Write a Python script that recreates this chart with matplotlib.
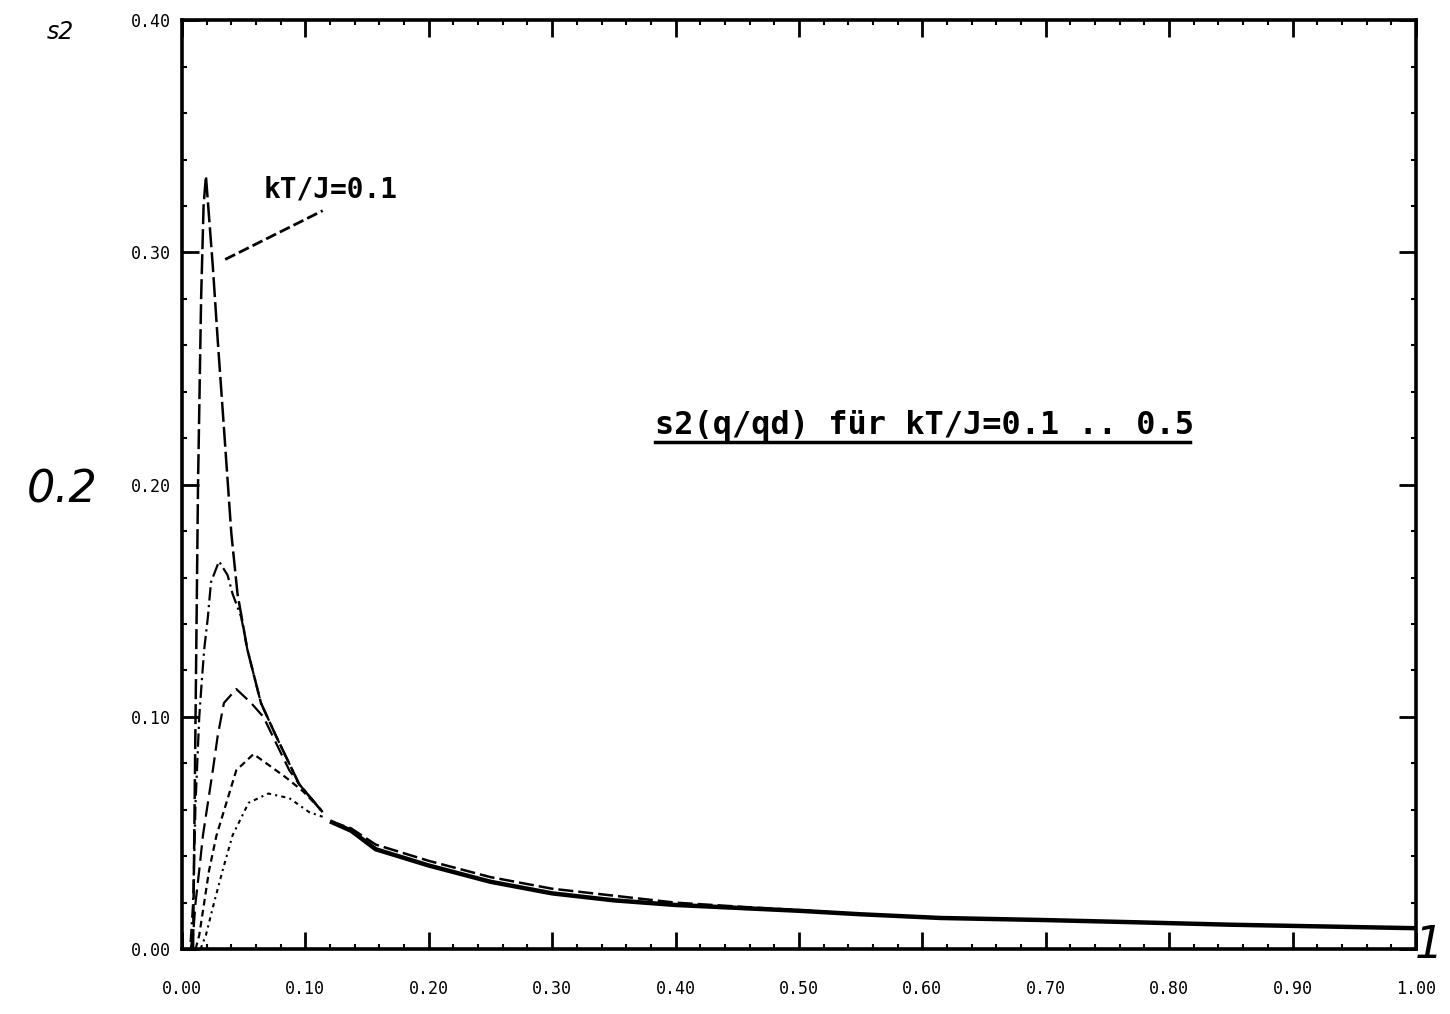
import numpy as np
import matplotlib
matplotlib.use("Agg")
import matplotlib.pyplot as plt
from matplotlib.ticker import MultipleLocator, FixedLocator

# ---- data (q/qd, s2) ----
temps = ["0.1", "0.2", "0.3", "0.4", "0.5"]

# low-q part of each curve (rise, peak, merge into common tail)
q_01 = [0.009, 0.011, 0.013, 0.0155, 0.0175, 0.0194, 0.025, 0.029, 0.033, 0.040, 0.045, 0.053, 0.064, 0.076, 0.095, 0.114]
s_01 = [0.000, 0.100, 0.200, 0.280, 0.320, 0.333, 0.294, 0.262, 0.232, 0.179, 0.153, 0.129, 0.106, 0.092, 0.071, 0.059]

q_02 = [0.007, 0.009, 0.011, 0.014, 0.016, 0.018, 0.021, 0.0235, 0.030, 0.037, 0.041, 0.048, 0.053, 0.064, 0.076, 0.095, 0.114]
s_02 = [0.003, 0.020, 0.063, 0.100, 0.115, 0.129, 0.143, 0.158, 0.167, 0.161, 0.153, 0.143, 0.129, 0.106, 0.092, 0.071, 0.059]

q_03 = [0.007, 0.009, 0.011, 0.014, 0.017, 0.021, 0.025, 0.029, 0.034, 0.044, 0.056, 0.066, 0.076, 0.087, 0.095, 0.114]
s_03 = [0.000, 0.006, 0.020, 0.034, 0.049, 0.063, 0.077, 0.092, 0.106, 0.112, 0.106, 0.100, 0.089, 0.077, 0.071, 0.059]

q_04 = [0.011, 0.014, 0.018, 0.022, 0.028, 0.036, 0.044, 0.058, 0.071, 0.084, 0.098, 0.109, 0.114]
s_04 = [0.000, 0.006, 0.020, 0.034, 0.049, 0.063, 0.077, 0.084, 0.079, 0.074, 0.068, 0.062, 0.059]

q_05 = [0.015, 0.0194, 0.026, 0.033, 0.041, 0.054, 0.070, 0.087, 0.103, 0.114]
s_05 = [0.000, 0.006, 0.020, 0.034, 0.049, 0.063, 0.067, 0.065, 0.059, 0.057]

# common tail (all curves coincide)
q_tail = [0.120, 0.137, 0.157, 0.200, 0.250, 0.300, 0.350, 0.400, 0.460, 0.500, 0.550, 0.615, 0.700, 0.777, 0.850, 0.900, 0.950, 1.000]
s_tail = [0.055, 0.051, 0.043, 0.036, 0.029, 0.024, 0.021, 0.019, 0.0175, 0.0165, 0.015, 0.0134, 0.0125, 0.0115, 0.0105, 0.0100, 0.0095, 0.0090]
# slightly higher dashed branch of the tail
s_tail_hi = [0.055, 0.052, 0.045, 0.038, 0.031, 0.026, 0.023, 0.020, 0.018, 0.0168, 0.015, 0.0134, 0.0125, 0.0115, 0.0105, 0.0100, 0.0095, 0.0090]

xticks = [0.0, 0.1, 0.2, 0.3, 0.4, 0.5, 0.6, 0.7, 0.8, 0.9, 1.0]
xticklabels = ["0.00", "0.10", "0.20", "0.30", "0.40", "0.50", "0.60", "0.70", "0.80", "0.90", "1.00"]
yticks = [0.0, 0.1, 0.2, 0.3, 0.4]
yticklabels = ["0.00", "0.10", "0.20", "0.30", "0.40"]

title_text = "s2(q/qd) für kT/J=0.1 .. 0.5"
annot_text = "kT/J=0.1"

# ---- figure ----
fig = plt.figure(figsize=(14.5, 10.14), dpi=100)
ax = fig.add_axes([0.1255, 0.064, 0.851, 0.916])
ax.set_xlim(0, 1.0)
ax.set_ylim(0, 0.40)

styles = [
    dict(ls=(0, (8, 2)), lw=1.8),
    dict(ls=(0, (6, 2, 1, 2)), lw=1.6),
    dict(ls=(0, (7, 3)), lw=1.6),
    dict(ls=(0, (3, 2)), lw=1.6),
    dict(ls=(0, (2, 2, 1, 2)), lw=1.5),
]
curves = [(q_01, s_01), (q_02, s_02), (q_03, s_03), (q_04, s_04), (q_05, s_05)]
for (qq, ss), st in zip(curves, styles):
    ax.plot(qq, ss, color="black", **st)

# common tail: thick solid plus slightly higher dashed branch
ax.plot(q_tail, s_tail, color="black", lw=3.2, solid_capstyle="butt")
ax.plot(q_tail, s_tail_hi, color="black", lw=1.8, ls=(0, (6, 2)))

# ---- axes styling ----
for sp in ax.spines.values():
    sp.set_linewidth(2.6)
    sp.set_color("black")

ax.xaxis.set_major_locator(FixedLocator(xticks))
ax.yaxis.set_major_locator(FixedLocator(yticks))
ax.xaxis.set_minor_locator(MultipleLocator(0.02))
ax.yaxis.set_minor_locator(MultipleLocator(0.02))
ax.set_xticklabels(xticklabels)
ax.set_yticklabels(yticklabels)

ax.tick_params(which="major", direction="in", length=12, width=2.0,
               top=True, right=True, labelsize=12)
ax.tick_params(which="minor", direction="in", length=3.5, width=1.5,
               top=True, right=True)
ax.tick_params(axis="x", which="major", pad=22)
ax.tick_params(axis="y", which="major", pad=8)
for lab in ax.get_xticklabels() + ax.get_yticklabels():
    lab.set_family("DejaVu Sans Mono")

# ---- texts ----
fig.text(60 / 1450, 1 - 32 / 1014, "s2", fontsize=17, style="italic",
         family="DejaVu Sans", ha="center", va="center")
fig.text(62 / 1450, 1 - 490 / 1014, "0.2", fontsize=32, style="italic",
         family="DejaVu Sans", ha="center", va="center")
fig.text(1429 / 1450, 1 - 945 / 1014, "1", fontsize=32, style="italic",
         family="DejaVu Sans", ha="center", va="center")

ax.text(0.066, 0.327, annot_text, fontsize=20, fontweight="bold",
        family="DejaVu Sans Mono", ha="left", va="center")
ax.plot([0.035, 0.114], [0.297, 0.318], color="black", lw=2.0, ls=(0, (4, 1.5)))

ax.text(0.383, 0.222, title_text, fontsize=23, fontweight="bold",
        family="DejaVu Sans Mono", ha="left", va="baseline")
ax.plot([0.383, 0.817], [0.2183, 0.2183], color="black", lw=2.5)

fig.savefig("out.png", dpi=100)
